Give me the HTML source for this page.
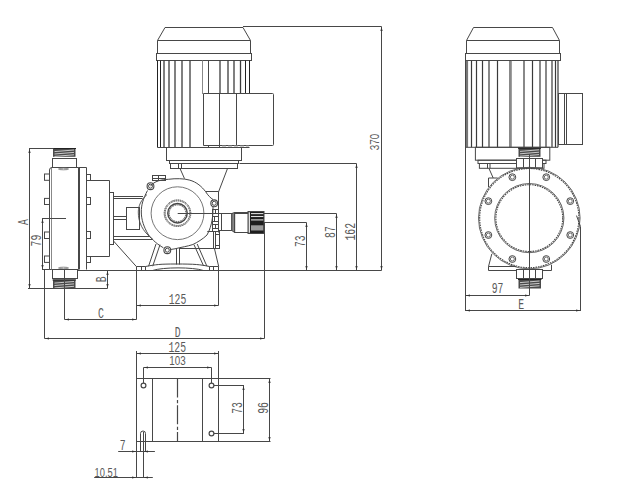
<!DOCTYPE html>
<html><head><meta charset="utf-8"><style>
html,body{margin:0;padding:0;background:#fff;}
svg{display:block;}
</style></head><body>
<svg width="618" height="496" viewBox="0 0 618 496">
<g fill="none" stroke="#474747" stroke-width="1">
<path d="M157.5,53.5 V40.5 L165,27.5 H243 L250.5,40.5 V53.5" />
<line x1="157.5" y1="40.5" x2="250.5" y2="40.5"/>
<rect x="156.5" y="53.5" width="95.0" height="7.0" />
<line x1="157.5" y1="60.5" x2="157.5" y2="147.5" stroke="#222"/>
<line x1="160.5" y1="60.5" x2="160.5" y2="147.5" stroke="#222"/>
<line x1="164" y1="60.5" x2="164" y2="147.5" stroke-width="1.3" stroke="#3c3c3c"/>
<line x1="169" y1="60.5" x2="169" y2="147.5" stroke-width="1.3" stroke="#3c3c3c"/>
<line x1="175" y1="60.5" x2="175" y2="147.5" stroke-width="1.3" stroke="#3c3c3c"/>
<line x1="182" y1="60.5" x2="182" y2="147.5" stroke-width="1.3" stroke="#3c3c3c"/>
<line x1="190" y1="60.5" x2="190" y2="147.5" stroke-width="1.3" stroke="#3c3c3c"/>
<line x1="202.5" y1="60.5" x2="202.5" y2="94" stroke="#888"/>
<line x1="208.5" y1="60.5" x2="208.5" y2="94"/>
<line x1="220" y1="60.5" x2="220" y2="94" stroke-width="1.3" stroke="#3c3c3c"/>
<line x1="228" y1="60.5" x2="228" y2="94" stroke-width="1.3" stroke="#3c3c3c"/>
<line x1="234" y1="60.5" x2="234" y2="94" stroke-width="1.3" stroke="#3c3c3c"/>
<line x1="240.5" y1="60.5" x2="240.5" y2="94" stroke-width="1.3" stroke="#3c3c3c"/>
<line x1="245.5" y1="60.5" x2="245.5" y2="94" stroke="#222"/>
<line x1="249.5" y1="60.5" x2="249.5" y2="94" stroke="#222"/>
<line x1="157.5" y1="147.5" x2="203" y2="147.5"/>
<path d="M203.5,145.5 V93.5 H272.5 Q273.5,93.5 273.5,94.5 V144.5 Q273.5,145.5 272.5,145.5 Z" />
<line x1="219.5" y1="93.5" x2="219.5" y2="145.5"/>
<line x1="236.5" y1="93.5" x2="236.5" y2="145.5"/>
<line x1="203" y1="147.5" x2="249.5" y2="147.5"/>
<line x1="208.5" y1="145.5" x2="208.5" y2="147.5"/>
<line x1="219.5" y1="145.5" x2="219.5" y2="147.5"/>
<line x1="222" y1="146" x2="249" y2="146" stroke="#999" stroke-dasharray="4,2"/>
<rect x="166.5" y="147.5" width="75.0" height="13.0" />
<rect x="169.5" y="160.5" width="69.0" height="3.0" />
<rect x="170.5" y="163.5" width="67.0" height="5.0" />
<line x1="178.5" y1="163.5" x2="178.5" y2="168.5"/>
<line x1="181.5" y1="163.5" x2="181.5" y2="168.5"/>
<line x1="180" y1="168.5" x2="184.5" y2="178.6"/>
<line x1="227.5" y1="168.5" x2="218.5" y2="192"/>
<path d="M150.5,186.2 C154,181 162,179.5 168.3,179.3 C176,178.3 184,178.5 189.2,180 C197,182 202,187 205.5,191.5 C208,195.5 210.5,198 213,199.5 M213,207 C213,215 212.5,225 207,235 C203,239 197,242.5 192.9,244.5 C187,246.5 182,247 175,248.8 L170.5,249.5 M163.4,247.8 C155,243 150,237 147.9,233.9 C144,227 141.3,220 141.3,212 C141.3,205 143,199 147.5,190.5" />
<path d="M147,194.5 C141,200 138.3,206 138.3,212 C138.3,222 142,231 153,239.5" stroke-width="0.9"/>
<line x1="205.5" y1="191.5" x2="218.5" y2="191.5"/>
<circle cx="177.5" cy="213.2" r="26.4" stroke-width="0.9" stroke="#666"/>
<circle cx="177.5" cy="213.2" r="13.3" stroke-width="1" stroke-dasharray="1.3,0.6"/>
<circle cx="177.5" cy="213.2" r="12.3" stroke-width="1" stroke-dasharray="1.3,0.6" stroke-dashoffset="1"/>
<circle cx="177.5" cy="213.2" r="9.7" stroke-width="1.5"/>
<circle cx="177.5" cy="213.2" r="8.3" stroke-width="1" stroke-dasharray="1.2,0.7"/>
<circle cx="150.5" cy="186.2" r="3.4" stroke-width="1.1"/>
<circle cx="150.5" cy="186.2" r="2" />
<circle cx="214.2" cy="203.3" r="3.4" stroke-width="1.1"/>
<circle cx="214.2" cy="203.3" r="2" />
<circle cx="167.3" cy="250.2" r="3.4" stroke-width="1.1"/>
<circle cx="167.3" cy="250.2" r="2" />
<rect x="152.5" y="175.5" width="13.0" height="5.0" />
<line x1="158.5" y1="175.5" x2="158.5" y2="180.5"/>
<line x1="152.5" y1="178.5" x2="165.5" y2="178.5"/>
<line x1="177.7" y1="213.5" x2="336.5" y2="213.5"/>
<rect x="212.5" y="209.5" width="6.0" height="22.0" />
<line x1="212.5" y1="213.5" x2="218.5" y2="213.5"/>
<line x1="212.5" y1="216.5" x2="218.5" y2="216.5"/>
<line x1="212.5" y1="221.5" x2="218.5" y2="221.5"/>
<line x1="212.5" y1="224.5" x2="218.5" y2="224.5"/>
<line x1="212.5" y1="228.5" x2="218.5" y2="228.5"/>
<line x1="215.5" y1="209.5" x2="215.5" y2="213.5"/>
<line x1="214.5" y1="216.5" x2="214.5" y2="221.5"/>
<line x1="215.5" y1="224.5" x2="215.5" y2="228.5"/>
<rect x="213.5" y="231.5" width="6.0" height="17.0" />
<line x1="215.5" y1="231.5" x2="215.5" y2="248.5"/>
<line x1="215.5" y1="234.5" x2="219.5" y2="234.5"/>
<line x1="215.5" y1="245.5" x2="219.5" y2="245.5"/>
<line x1="207.3" y1="231.5" x2="213.5" y2="231.5"/>
<line x1="218.5" y1="192" x2="218.5" y2="232.5"/>
<line x1="179" y1="248.5" x2="214.5" y2="248.5"/>
<line x1="214.5" y1="248.8" x2="218.7" y2="266.5"/>
<rect x="218.5" y="213.5" width="3.0" height="17.0" />
<rect x="221.5" y="213.5" width="10.3" height="17.0" />
<path d="M231.8,213.5 L234.6,212.5 V232.5 L231.8,230.5 Z" fill="#888"/>
<rect x="234.6" y="212.5" width="13.9" height="20.0" />
<rect x="248" y="211.5" width="16" height="22.0" fill="#1e1e1e"/>
<line x1="251" y1="213.6" x2="263.3" y2="213.6" stroke-width="1.1" stroke="#e0e0e0"/>
<line x1="251" y1="216.5" x2="263.3" y2="216.5" stroke-width="1.1" stroke="#e0e0e0"/>
<line x1="251" y1="219.9" x2="263.3" y2="219.9" stroke-width="1.1" stroke="#e0e0e0"/>
<rect x="251" y="225.3" width="12.3" height="5.2" fill="#9a9a9a" stroke="none"/>
<line x1="249.3" y1="212.3" x2="249.3" y2="232.7" stroke-width="1.3" stroke="#f0f0f0"/>
<rect x="53" y="148" width="22.5" height="8.800000000000011" fill="#4a4a4a" stroke="none"/>
<line x1="52.5" y1="148.5" x2="76.0" y2="148.5" stroke="#222"/>
<line x1="54.5" y1="151.6" x2="74.0" y2="150.0" stroke="#d8d8d8" stroke-width="0.9"/>
<line x1="54.5" y1="154.0" x2="74.0" y2="152.4" stroke="#d8d8d8" stroke-width="0.9"/>
<line x1="54.5" y1="156.4" x2="74.0" y2="154.8" stroke="#d8d8d8" stroke-width="0.9"/>
<rect x="52.5" y="158.5" width="24.0" height="9.0" />
<path d="M49.5,269.5 V170 Q49.5,167.5 52,167.5 H78.5 V269.5 Z" />
<line x1="51.5" y1="168" x2="51.5" y2="269.5" stroke="#888"/>
<line x1="79.5" y1="167.5" x2="79.5" y2="269.5"/>
<line x1="86.5" y1="167.5" x2="86.5" y2="269.5"/>
<rect x="44.5" y="174" width="5.0" height="6.3" />
<rect x="44.5" y="198.4" width="5.0" height="6.1" />
<rect x="44.5" y="232" width="5.0" height="6.5" />
<rect x="44.5" y="256" width="5.0" height="6.4" />
<rect x="86.5" y="174.5" width="4.0" height="6.0" />
<rect x="86.5" y="197.5" width="4.0" height="7.0" />
<rect x="86.5" y="231.5" width="4.0" height="7.0" />
<rect x="86.5" y="256.5" width="4.0" height="6.0" />
<line x1="78.5" y1="167.5" x2="86.5" y2="167.5"/>
<ellipse cx="63.5" cy="169" rx="5" ry="0.8" stroke="#888"/>
<ellipse cx="63.5" cy="268" rx="5" ry="0.8" stroke="#888"/>
<path d="M90.5,180.5 H109.5 V256.5 H90.5" />
<rect x="109.5" y="192.5" width="4.0" height="52.0" />
<line x1="113.5" y1="196.5" x2="143" y2="196.5"/>
<line x1="113.5" y1="198.5" x2="142.5" y2="198.5"/>
<line x1="113.5" y1="216.5" x2="126.5" y2="216.5"/>
<line x1="113.5" y1="219.5" x2="126.5" y2="219.5"/>
<line x1="113.5" y1="236.5" x2="150" y2="236.5"/>
<line x1="113.5" y1="239.5" x2="152" y2="239.5"/>
<rect x="126.5" y="207.5" width="13.0" height="22.0" />
<line x1="113.5" y1="241" x2="136.5" y2="266.7"/>
<rect x="52.5" y="269.5" width="25.0" height="9.0" />
<rect x="53" y="279.5" width="22.5" height="9.0" fill="#4a4a4a" stroke="none"/>
<line x1="52.5" y1="280.0" x2="76.0" y2="280.0" stroke="#222"/>
<line x1="54.5" y1="283.09999999999997" x2="74.0" y2="281.5" stroke="#d8d8d8" stroke-width="0.9"/>
<line x1="54.5" y1="285.49999999999994" x2="74.0" y2="283.9" stroke="#d8d8d8" stroke-width="0.9"/>
<line x1="54.5" y1="287.9" x2="74.0" y2="286.3" stroke="#d8d8d8" stroke-width="0.9"/>
<line x1="136.5" y1="266.5" x2="145.5" y2="266.5"/>
<line x1="209.5" y1="266.5" x2="218.5" y2="266.5"/>
<line x1="136.5" y1="266.5" x2="136.5" y2="270.5"/>
<line x1="218.5" y1="266.5" x2="218.5" y2="270.5"/>
<line x1="141.5" y1="266.5" x2="141.5" y2="270.5"/>
<line x1="145.5" y1="266.5" x2="145.5" y2="270.5"/>
<line x1="213.5" y1="266.5" x2="213.5" y2="270.5"/>
<line x1="209.5" y1="266.5" x2="209.5" y2="270.5"/>
<path d="M145.5,266.5 C156,264.5 160,264 176,264 C195,264 200,264.5 209.5,266.5" />
<path d="M152.5,270.5 C163,267 193,267 203.5,270.5" />
<line x1="156" y1="244" x2="148.6" y2="266.2"/>
<line x1="160" y1="244.7" x2="152.7" y2="266.2"/>
<line x1="194" y1="244.7" x2="203.6" y2="266"/>
<line x1="197.2" y1="244" x2="206.9" y2="266.2"/>
<line x1="176.5" y1="248.5" x2="176.5" y2="264.5"/>
<line x1="179.5" y1="248.5" x2="179.5" y2="264.5"/>
<line x1="78" y1="270.5" x2="381.5" y2="270.5"/>
<line x1="29.5" y1="148.5" x2="29.5" y2="288.5"/>
<line x1="29" y1="148.5" x2="53.5" y2="148.5"/>
<line x1="28" y1="288.5" x2="107.5" y2="288.5"/>
<text fill="#5a5a5a" stroke="none" font-family="Liberation Mono, monospace" transform="translate(23,222) rotate(-90) scale(0.69,1)" x="0" y="5.111999999999999" font-size="14.2" text-anchor="middle">A</text>
<line x1="42.5" y1="218.5" x2="42.5" y2="269.5"/>
<line x1="42" y1="218.5" x2="66" y2="218.5"/>
<line x1="42" y1="269.5" x2="49.5" y2="269.5"/>
<text fill="#5a5a5a" stroke="none" font-family="Liberation Mono, monospace" transform="translate(35.5,240.6) rotate(-90) scale(0.69,1)" x="0" y="5.111999999999999" font-size="14.2" text-anchor="middle">79</text>
<line x1="107.5" y1="270.5" x2="107.5" y2="288.5"/>
<text fill="#5a5a5a" stroke="none" font-family="Liberation Mono, monospace" transform="translate(100.6,279.4) rotate(-90) scale(0.69,1)" x="0" y="5.111999999999999" font-size="14.2" text-anchor="middle">B</text>
<line x1="64.5" y1="269.5" x2="64.5" y2="319.5"/>
<line x1="64.5" y1="319.5" x2="136.5" y2="319.5"/>
<line x1="136.5" y1="270.5" x2="136.5" y2="319.5"/>
<text fill="#5a5a5a" stroke="none" font-family="Liberation Mono, monospace" transform="translate(101,313) scale(0.69,1)" x="0" y="5.111999999999999" font-size="14.2" text-anchor="middle">C</text>
<line x1="136.5" y1="305.5" x2="218.5" y2="305.5"/>
<line x1="218.5" y1="270.5" x2="218.5" y2="305.5"/>
<text fill="#5a5a5a" stroke="none" font-family="Liberation Mono, monospace" transform="translate(177.5,299) scale(0.69,1)" x="0" y="5.111999999999999" font-size="14.2" text-anchor="middle">125</text>
<line x1="44.5" y1="269.5" x2="44.5" y2="338.5"/>
<line x1="44.5" y1="338.5" x2="264.5" y2="338.5"/>
<line x1="264.5" y1="222.5" x2="264.5" y2="338.5"/>
<text fill="#5a5a5a" stroke="none" font-family="Liberation Mono, monospace" transform="translate(177.7,331.7) scale(0.69,1)" x="0" y="5.111999999999999" font-size="14.2" text-anchor="middle">D</text>
<line x1="263.8" y1="222.5" x2="306.5" y2="222.5"/>
<line x1="306.5" y1="222.5" x2="306.5" y2="270.5"/>
<text fill="#5a5a5a" stroke="none" font-family="Liberation Mono, monospace" transform="translate(300.2,241.2) rotate(-90) scale(0.69,1)" x="0" y="5.111999999999999" font-size="14.2" text-anchor="middle">73</text>
<line x1="336.5" y1="213.5" x2="336.5" y2="270.5"/>
<text fill="#5a5a5a" stroke="none" font-family="Liberation Mono, monospace" transform="translate(329.4,232.1) rotate(-90) scale(0.69,1)" x="0" y="5.111999999999999" font-size="14.2" text-anchor="middle">87</text>
<line x1="239.5" y1="163.5" x2="356.5" y2="163.5"/>
<line x1="356.5" y1="163.5" x2="356.5" y2="270.5"/>
<text fill="#5a5a5a" stroke="none" font-family="Liberation Mono, monospace" transform="translate(349.7,231.8) rotate(-90) scale(0.69,1)" x="0" y="5.111999999999999" font-size="14.2" text-anchor="middle">162</text>
<line x1="243" y1="26.5" x2="381.5" y2="26.5"/>
<line x1="381.5" y1="26.5" x2="381.5" y2="270.5"/>
<text fill="#5a5a5a" stroke="none" font-family="Liberation Sans" transform="translate(374.3,142) rotate(-90) scale(0.74,1)" x="0" y="4.788" font-size="13.3" text-anchor="middle">370</text>
<path d="M466.5,53.5 V40.5 L473.5,27.5 H552.5 L559.5,40.5 V53.5" />
<line x1="466.5" y1="40.5" x2="559.5" y2="40.5"/>
<rect x="465.5" y="53.5" width="95.0" height="7.0" />
<line x1="467" y1="60.8" x2="467" y2="147.3" stroke-width="2.2" stroke="#777"/>
<line x1="471.5" y1="60.8" x2="471.5" y2="147.3" stroke-width="1.2" stroke="#3a3a3a"/>
<line x1="476.5" y1="60.8" x2="476.5" y2="147.3" stroke-width="1.2" stroke="#3a3a3a"/>
<line x1="482.5" y1="60.8" x2="482.5" y2="147.3" stroke-width="1.2" stroke="#3a3a3a"/>
<line x1="489" y1="60.8" x2="489" y2="147.3" stroke-width="1.2" stroke="#3a3a3a"/>
<line x1="497.5" y1="60.8" x2="497.5" y2="147.3" stroke-width="1.2" stroke="#3a3a3a"/>
<line x1="510" y1="60.8" x2="510" y2="147.3" stroke-width="1.2" stroke="#3a3a3a"/>
<line x1="524" y1="60.8" x2="524" y2="147.3" stroke-width="1.2" stroke="#3a3a3a"/>
<line x1="532.5" y1="60.8" x2="532.5" y2="147.3" stroke-width="1.2" stroke="#3a3a3a"/>
<line x1="540" y1="60.8" x2="540" y2="147.3" stroke-width="1.2" stroke="#3a3a3a"/>
<line x1="546" y1="60.8" x2="546" y2="147.3" stroke-width="1.2" stroke="#3a3a3a"/>
<line x1="552" y1="60.8" x2="552" y2="147.3" stroke-width="1.2" stroke="#3a3a3a"/>
<line x1="555.5" y1="60.8" x2="555.5" y2="147.3" stroke-width="1.2" stroke="#3a3a3a"/>
<line x1="558" y1="60.8" x2="558" y2="147.3" stroke-width="1.2" stroke="#3a3a3a"/>
<line x1="511.5" y1="60.8" x2="511.5" y2="147.3" stroke-width="0.8" stroke="#888"/>
<line x1="466" y1="147.3" x2="558" y2="147.3"/>
<rect x="558.5" y="93.5" width="24.0" height="51.0" />
<line x1="564.5" y1="93.5" x2="564.5" y2="144.5"/>
<line x1="566.5" y1="93.5" x2="566.5" y2="144.5"/>
<rect x="475.4" y="147.3" width="74.4" height="12.9" />
<rect x="478" y="160.2" width="68" height="3.3" />
<rect x="479.4" y="163.5" width="64.6" height="4.8" />
<line x1="487.5" y1="163.5" x2="487.5" y2="168.3"/>
<line x1="490" y1="163.5" x2="490" y2="168.3"/>
<line x1="465.5" y1="60.8" x2="465.5" y2="311"/>
<rect x="518.5" y="147.8" width="22.0" height="9.0" fill="#4a4a4a" stroke="none"/>
<line x1="518.0" y1="148.3" x2="541.0" y2="148.3" stroke="#222"/>
<line x1="520.0" y1="151.4" x2="539.0" y2="149.8" stroke="#d8d8d8" stroke-width="0.9"/>
<line x1="520.0" y1="153.8" x2="539.0" y2="152.20000000000002" stroke="#d8d8d8" stroke-width="0.9"/>
<line x1="520.0" y1="156.20000000000002" x2="539.0" y2="154.60000000000002" stroke="#d8d8d8" stroke-width="0.9"/>
<rect x="516.5" y="158.5" width="26.0" height="9.3" fill="#fff"/>
<line x1="523.5" y1="158.5" x2="523.5" y2="167.8"/>
<line x1="535.5" y1="158.5" x2="535.5" y2="167.8"/>
<circle cx="529.3" cy="218.1" r="50.8" stroke-width="0.9" stroke="#555"/>
<circle cx="529.3" cy="218.1" r="49.6" stroke-width="1.1" stroke-dasharray="1.6,0.9"/>
<circle cx="529.3" cy="218.1" r="34.6" stroke-width="0.9" stroke="#555"/>
<circle cx="529.3" cy="218.1" r="33.4" stroke-width="1.1" stroke-dasharray="1.6,0.9"/>
<circle cx="570.23" cy="235.05" r="3.4" stroke-width="1"/>
<circle cx="570.23" cy="235.05" r="2" stroke-width="0.8"/>
<circle cx="546.25" cy="259.03" r="3.4" stroke-width="1"/>
<circle cx="546.25" cy="259.03" r="2" stroke-width="0.8"/>
<circle cx="512.35" cy="259.03" r="3.4" stroke-width="1"/>
<circle cx="512.35" cy="259.03" r="2" stroke-width="0.8"/>
<circle cx="488.37" cy="235.05" r="3.4" stroke-width="1"/>
<circle cx="488.37" cy="235.05" r="2" stroke-width="0.8"/>
<circle cx="488.37" cy="201.15" r="3.4" stroke-width="1"/>
<circle cx="488.37" cy="201.15" r="2" stroke-width="0.8"/>
<circle cx="512.35" cy="177.17" r="3.4" stroke-width="1"/>
<circle cx="512.35" cy="177.17" r="2" stroke-width="0.8"/>
<circle cx="546.25" cy="177.17" r="3.4" stroke-width="1"/>
<circle cx="546.25" cy="177.17" r="2" stroke-width="0.8"/>
<circle cx="570.23" cy="201.15" r="3.4" stroke-width="1"/>
<circle cx="570.23" cy="201.15" r="2" stroke-width="0.8"/>
<line x1="489" y1="168.5" x2="493.2" y2="178"/>
<path d="M497.7,178 H488.5 V187" />
<path d="M491.8,253.9 L488.5,266.5 V270.5 H551.5 V264.7" />
<line x1="488.5" y1="266.5" x2="516" y2="266.5"/>
<line x1="576.5" y1="215.6" x2="580.5" y2="226.5"/>
<line x1="580.5" y1="226.5" x2="580.5" y2="311"/>
<rect x="516.5" y="269.5" width="26.0" height="9.0" fill="#fff"/>
<line x1="523.5" y1="269.3" x2="523.5" y2="278.3"/>
<line x1="535.5" y1="269.3" x2="535.5" y2="278.3"/>
<rect x="518.5" y="279" width="22.5" height="9.5" fill="#4a4a4a" stroke="none"/>
<line x1="518.0" y1="279.5" x2="541.5" y2="279.5" stroke="#222"/>
<line x1="520.0" y1="282.59999999999997" x2="539.5" y2="281.0" stroke="#d8d8d8" stroke-width="0.9"/>
<line x1="520.0" y1="284.99999999999994" x2="539.5" y2="283.4" stroke="#d8d8d8" stroke-width="0.9"/>
<line x1="520.0" y1="287.4" x2="539.5" y2="285.8" stroke="#d8d8d8" stroke-width="0.9"/>
<line x1="529.5" y1="154" x2="529.5" y2="295.5"/>
<line x1="465.5" y1="295.5" x2="529.5" y2="295.5"/>
<text fill="#5a5a5a" stroke="none" font-family="Liberation Mono, monospace" transform="translate(497.6,288) scale(0.69,1)" x="0" y="5.111999999999999" font-size="14.2" text-anchor="middle">97</text>
<line x1="465.5" y1="310.5" x2="580.5" y2="310.5"/>
<text fill="#5a5a5a" stroke="none" font-family="Liberation Mono, monospace" transform="translate(521.2,303.8) scale(0.69,1)" x="0" y="5.111999999999999" font-size="14.2" text-anchor="middle">E</text>
<rect x="136.5" y="378.5" width="82.0" height="63.0" />
<line x1="152.5" y1="378.5" x2="152.5" y2="441.5"/>
<line x1="202.5" y1="378.5" x2="202.5" y2="441.5"/>
<line x1="177.5" y1="378.5" x2="177.5" y2="441.5" stroke-dasharray="19,2.4,3.4,2" stroke-width="1.2"/>
<line x1="136.5" y1="353.5" x2="218.5" y2="353.5"/>
<line x1="136.5" y1="351" x2="136.5" y2="378.5"/>
<line x1="218.5" y1="351" x2="218.5" y2="378.5"/>
<text fill="#5a5a5a" stroke="none" font-family="Liberation Mono, monospace" transform="translate(177.3,347) scale(0.69,1)" x="0" y="5.111999999999999" font-size="14.2" text-anchor="middle">125</text>
<line x1="143.5" y1="367.5" x2="211.5" y2="367.5"/>
<line x1="143.5" y1="367.5" x2="143.5" y2="383.2"/>
<line x1="211.5" y1="367.5" x2="211.5" y2="383.2"/>
<text fill="#5a5a5a" stroke="none" font-family="Liberation Sans" transform="translate(177.5,360.7) scale(0.74,1)" x="0" y="4.788" font-size="13.3" text-anchor="middle">103</text>
<circle cx="143.5" cy="385.5" r="2.4" stroke-width="1.2"/>
<circle cx="211.5" cy="385.5" r="2.4" stroke-width="1.2"/>
<circle cx="211.5" cy="433.5" r="2.4" stroke-width="1.2"/>
<path d="M140.5,451.5 V433.5 A2.5,2.5 0 0 1 145.5,433.5 V451.5" />
<line x1="143.5" y1="432" x2="143.5" y2="477.5"/>
<line x1="213.9" y1="385.5" x2="244" y2="385.5"/>
<line x1="213.9" y1="433.5" x2="244" y2="433.5"/>
<line x1="243.5" y1="385.5" x2="243.5" y2="433.5"/>
<text fill="#5a5a5a" stroke="none" font-family="Liberation Mono, monospace" transform="translate(237,408) rotate(-90) scale(0.69,1)" x="0" y="5.111999999999999" font-size="14.2" text-anchor="middle">73</text>
<line x1="218.5" y1="378.5" x2="270.5" y2="378.5"/>
<line x1="218.5" y1="441.5" x2="270.5" y2="441.5"/>
<line x1="269.5" y1="378.5" x2="269.5" y2="441.5"/>
<text fill="#5a5a5a" stroke="none" font-family="Liberation Mono, monospace" transform="translate(262.7,408) rotate(-90) scale(0.69,1)" x="0" y="5.111999999999999" font-size="14.2" text-anchor="middle">96</text>
<line x1="118.2" y1="451.5" x2="154.9" y2="451.5"/>
<text fill="#5a5a5a" stroke="none" font-family="Liberation Mono, monospace" transform="translate(122.7,444.7) scale(0.69,1)" x="0" y="5.111999999999999" font-size="14.2" text-anchor="middle">7</text>
<line x1="136.5" y1="441.5" x2="136.5" y2="477.5"/>
<line x1="94.2" y1="477.5" x2="152.8" y2="477.5"/>
<text fill="#5a5a5a" stroke="none" font-family="Liberation Sans" transform="translate(106.2,471.8) scale(0.7,1)" x="0" y="4.788" font-size="13.3" text-anchor="middle">10.51</text>
<polygon points="29.5,149.0 28.4,153.0 30.6,153.0" fill="#333" stroke="none"/>
<polygon points="29.5,288.0 28.4,284.0 30.6,284.0" fill="#333" stroke="none"/>
<polygon points="42.5,219.0 41.4,223.0 43.6,223.0" fill="#333" stroke="none"/>
<polygon points="42.5,269.0 41.4,265.0 43.6,265.0" fill="#333" stroke="none"/>
<polygon points="107.5,271.0 106.4,275.0 108.6,275.0" fill="#333" stroke="none"/>
<polygon points="107.5,288.0 106.4,284.0 108.6,284.0" fill="#333" stroke="none"/>
<polygon points="65.0,319.5 69.0,318.4 69.0,320.6" fill="#333" stroke="none"/>
<polygon points="136.0,319.5 132.0,318.4 132.0,320.6" fill="#333" stroke="none"/>
<polygon points="137.0,305.5 141.0,304.4 141.0,306.6" fill="#333" stroke="none"/>
<polygon points="218.0,305.5 214.0,304.4 214.0,306.6" fill="#333" stroke="none"/>
<polygon points="45.0,338.5 49.0,337.4 49.0,339.6" fill="#333" stroke="none"/>
<polygon points="264.0,338.5 260.0,337.4 260.0,339.6" fill="#333" stroke="none"/>
<polygon points="306.5,223.0 305.4,227.0 307.6,227.0" fill="#333" stroke="none"/>
<polygon points="306.5,270.0 305.4,266.0 307.6,266.0" fill="#333" stroke="none"/>
<polygon points="336.5,214.0 335.4,218.0 337.6,218.0" fill="#333" stroke="none"/>
<polygon points="336.5,270.0 335.4,266.0 337.6,266.0" fill="#333" stroke="none"/>
<polygon points="356.5,164.0 355.4,168.0 357.6,168.0" fill="#333" stroke="none"/>
<polygon points="356.5,270.0 355.4,266.0 357.6,266.0" fill="#333" stroke="none"/>
<polygon points="381.5,27.0 380.4,31.0 382.6,31.0" fill="#333" stroke="none"/>
<polygon points="381.5,270.0 380.4,266.0 382.6,266.0" fill="#333" stroke="none"/>
<polygon points="466.0,295.5 470.0,294.4 470.0,296.6" fill="#333" stroke="none"/>
<polygon points="529.0,295.5 525.0,294.4 525.0,296.6" fill="#333" stroke="none"/>
<polygon points="466.0,310.5 470.0,309.4 470.0,311.6" fill="#333" stroke="none"/>
<polygon points="580.0,310.5 576.0,309.4 576.0,311.6" fill="#333" stroke="none"/>
<polygon points="137.0,353.5 141.0,352.4 141.0,354.6" fill="#333" stroke="none"/>
<polygon points="218.0,353.5 214.0,352.4 214.0,354.6" fill="#333" stroke="none"/>
<polygon points="144.0,367.5 148.0,366.4 148.0,368.6" fill="#333" stroke="none"/>
<polygon points="211.0,367.5 207.0,366.4 207.0,368.6" fill="#333" stroke="none"/>
<polygon points="243.5,386.0 242.4,390.0 244.6,390.0" fill="#333" stroke="none"/>
<polygon points="243.5,433.0 242.4,429.0 244.6,429.0" fill="#333" stroke="none"/>
<polygon points="269.5,379.0 268.4,383.0 270.6,383.0" fill="#333" stroke="none"/>
<polygon points="269.5,441.0 268.4,437.0 270.6,437.0" fill="#333" stroke="none"/>
<polygon points="136,451.5 132,450.4 132,452.6" fill="#333" stroke="none"/>
<polygon points="144,451.5 148,450.4 148,452.6" fill="#333" stroke="none"/>
<polygon points="136,477.5 132,476.4 132,478.6" fill="#333" stroke="none"/>
<polygon points="144,477.5 148,476.4 148,478.6" fill="#333" stroke="none"/>
</g>
</svg></body></html>
